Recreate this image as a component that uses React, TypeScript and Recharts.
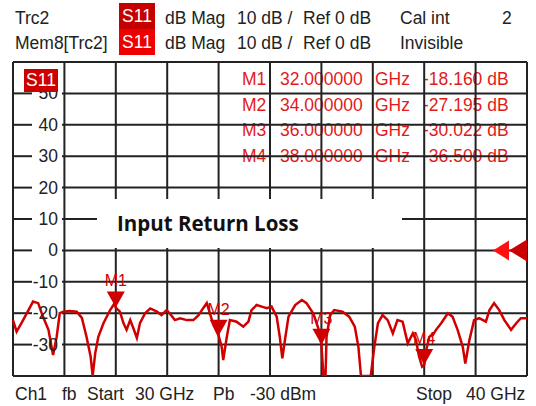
import { ComposedChart, Line, XAxis, YAxis, CartesianGrid, ReferenceDot } from 'recharts'

// ─── Data ─────────────────────────────────────────────────────────────────────

const freqs = [
  30.0, 30.07, 30.17, 30.27, 30.39, 30.49, 30.58, 30.69, 30.78, 30.85, 30.91, 30.98,
  31.1, 31.24, 31.34, 31.43, 31.51, 31.55, 31.6, 31.66, 31.76, 31.89, 31.97, 32.0,
  32.08, 32.15, 32.21, 32.28, 32.34, 32.41, 32.47, 32.57, 32.67, 32.8, 32.89, 32.99,
  33.05, 33.15, 33.25, 33.38, 33.51, 33.61, 33.7, 33.77, 33.83, 33.9, 34.0, 34.06,
  34.09, 34.16, 34.22, 34.35, 34.48, 34.58, 34.64, 34.74, 34.84, 34.94, 35.03, 35.13,
  35.19, 35.24, 35.3, 35.36, 35.49, 35.62, 35.71, 35.84, 35.94, 36.0, 36.04, 36.08,
  36.1, 36.17, 36.25, 36.41, 36.54, 36.65, 36.72, 36.77, 36.96, 37.03, 37.1, 37.19,
  37.29, 37.39, 37.48, 37.58, 37.68, 37.78, 37.84, 37.9, 37.96, 38.0, 38.04, 38.1,
  38.17, 38.23, 38.33, 38.46, 38.55, 38.65, 38.75, 38.8, 38.88, 38.97, 39.07, 39.2,
  39.27, 39.36, 39.46, 39.56, 39.69, 39.79, 39.88, 40.0,
]

const s11 = [
  -22.2, -25.9, -23.0, -20.0, -16.3, -16.8, -21.0, -25.3, -33.3, -27.5, -20.0, -19.5,
  -19.3, -19.5, -21.5, -27.5, -33.8, -40.0, -32.7, -27.5, -23.2, -19.0, -17.0, -18.2,
  -19.5, -23.2, -25.3, -22.2, -24.7, -27.9, -23.2, -20.0, -18.5, -19.5, -20.6, -19.0,
  -20.1, -22.2, -21.6, -22.2, -22.2, -20.6, -18.4, -16.8, -20.0, -23.8, -27.2, -30.7,
  -34.9, -27.5, -22.2, -22.7, -24.3, -22.7, -19.0, -17.4, -17.9, -18.4, -17.9, -21.1,
  -27.5, -34.4, -27.5, -21.1, -17.4, -15.8, -16.8, -20.0, -24.8, -30.0, -40.0, -40.0,
  -27.5, -20.6, -19.0, -19.5, -21.1, -24.3, -30.7, -40.0, -40.0, -30.7, -23.2, -20.6,
  -22.2, -26.4, -22.2, -22.7, -29.6, -26.4, -28.5, -33.8, -37.0, -36.5, -31.7, -27.5,
  -26.9, -25.3, -23.2, -20.0, -21.1, -25.3, -30.7, -36.0, -28.5, -22.2, -21.6, -22.7,
  -19.0, -16.8, -19.0, -22.2, -25.3, -23.2, -21.6, -21.6,
]

const freqTicks = [30, 31, 32, 33, 34, 35, 36, 37, 38, 39, 40]
const dbTicks = [-40, -30, -20, -10, 0, 10, 20, 30, 40, 50, 60]
const dbLabels = [-30, -20, -10, 0, 10, 20, 30, 40, 50]

const markerNames = ['M1', 'M2', 'M3', 'M4']
const markerFreqs = [32, 34, 36, 38]
const markerValues = [-18.16, -27.195, -30.022, -36.5]

const refLevel = 0

const data = freqs.map((f, i) => ({ freq: f, s11: s11[i] }))

// ─── Styles ───────────────────────────────────────────────────────────────────

const FONT = '"Liberation Sans", Arial, sans-serif'
const TRACE = '#d00000'
const MARKER_TEXT = '#e31a1a'
const GRID = '#222'

function Txt({ x, y, color = '#222', children }: { x: number; y: number; color?: string; children: React.ReactNode }) {
  return (
    <div
      style={{
        position: 'absolute',
        left: x,
        top: y,
        fontFamily: FONT,
        fontSize: 17.5,
        lineHeight: '20px',
        color,
        whiteSpace: 'nowrap',
      }}
    >
      {children}
    </div>
  )
}

function Badge({ x, y, w, h, bg }: { x: number; y: number; w: number; h: number; bg: string }) {
  return (
    <div
      style={{
        position: 'absolute',
        left: x,
        top: y,
        width: w,
        height: h,
        background: bg,
        color: '#fff',
        fontFamily: FONT,
        fontSize: 17.5,
        lineHeight: `${h}px`,
        textAlign: 'center',
      }}
    >
      S11
    </div>
  )
}

function NoTick() {
  return <g />
}

// horizontal grid lines leave a gap where the dB label sits (except the frame lines)
function HLine(props: any) {
  const { x1, x2, y1, index } = props
  const frame = index === 0 || index === dbTicks.length - 1
  if (frame) return <line x1={x1} x2={x2} y1={y1} y2={y1} stroke={GRID} strokeWidth={2} />
  return (
    <g>
      <line x1={x1} x2={x1 + 19} y1={y1} y2={y1} stroke={GRID} strokeWidth={2} />
      <line x1={x1 + 49} x2={x2} y1={y1} y2={y1} stroke={GRID} strokeWidth={2} />
    </g>
  )
}

function DbTick(props: any) {
  const { x, y, payload } = props
  if (!dbLabels.includes(payload.value)) return <g />
  return (
    <text x={x + 45} y={y} dy={6} textAnchor="end" fontSize={17.5} fill="#222" fontFamily={FONT}>
      {payload.value}
    </text>
  )
}

function MarkerShape(name: string) {
  return (props: any) => {
    const { cx, cy } = props
    return (
      <g>
        <polygon points={`${cx - 9},${cy - 16} ${cx + 9},${cy - 16} ${cx},${cy}`} fill={TRACE} />
        <text x={cx} y={cy - 21} textAnchor="middle" fontSize={16} fill={TRACE} fontFamily={FONT}>
          {name}
        </text>
      </g>
    )
  }
}

function RefArrows(props: any) {
  const { cx, cy } = props
  return (
    <g>
      <polygon points={`${cx - 34},${cy} ${cx - 18},${cy - 10} ${cx - 18},${cy + 10}`} fill="#ff1010" />
      <polygon points={`${cx - 18},${cy} ${cx},${cy - 11} ${cx},${cy + 11}`} fill="#cc0000" />
    </g>
  )
}

// ─── App ──────────────────────────────────────────────────────────────────────

export default function App() {
  return (
    <div style={{ position: 'absolute', left: 0, top: 0, width: 536, height: 406, background: '#fff', overflow: 'hidden' }}>
      {/* header */}
      <Txt x={15} y={8}>Trc2</Txt>
      <Badge x={119} y={3} w={36} h={26} bg="#c40000" />
      <Txt x={165} y={8}>dB Mag</Txt>
      <Txt x={237} y={8}>10 dB /</Txt>
      <Txt x={303} y={8}>Ref 0 dB</Txt>
      <Txt x={400} y={8}>Cal int</Txt>
      <Txt x={502} y={8}>2</Txt>

      <Txt x={15} y={33}>Mem8[Trc2]</Txt>
      <Badge x={119} y={29} w={36} h={26} bg="#ee0000" />
      <Txt x={165} y={33}>dB Mag</Txt>
      <Txt x={237} y={33}>10 dB /</Txt>
      <Txt x={303} y={33}>Ref 0 dB</Txt>
      <Txt x={400} y={33}>Invisible</Txt>

      {/* marker table, under the grid */}
      {markerNames.map((m, i) => (
        <div key={m}>
          <Txt x={242} y={69 + i * 25.5} color={MARKER_TEXT}>{m}</Txt>
          <Txt x={280} y={69 + i * 25.5} color={MARKER_TEXT}>{markerFreqs[i].toFixed(6)}</Txt>
          <Txt x={375} y={69 + i * 25.5} color={MARKER_TEXT}>GHz</Txt>
          <Txt x={423} y={69 + i * 25.5} color={MARKER_TEXT}>{`${markerValues[i].toFixed(3)} dB`}</Txt>
        </div>
      ))}

      <div style={{ position: 'absolute', left: 0, top: 0 }}>
        <ComposedChart width={536} height={406} data={data} margin={{ top: 62, right: 9, bottom: 30, left: 13 }}>
          <CartesianGrid
            stroke={GRID}
            strokeWidth={2}
            verticalValues={freqTicks}
            horizontalValues={dbTicks}
            horizontal={HLine}
          />
          <XAxis
            dataKey="freq"
            type="number"
            domain={[30, 40]}
            ticks={freqTicks}
            interval={0}
            height={0}
            tick={NoTick}
            axisLine={false}
            tickLine={false}
          />
          <YAxis
            type="number"
            domain={[-40, 60]}
            ticks={dbTicks}
            interval={0}
            width={1}
            mirror
            tickSize={0}
            tickMargin={0}
            axisLine={false}
            tickLine={false}
            allowDataOverflow
            tick={DbTick}
          />
          <Line
            type="linear"
            dataKey="s11"
            stroke={TRACE}
            strokeWidth={2.5}
            dot={false}
            activeDot={false}
            isAnimationActive={false}
          />
          {markerNames.map((m, i) => (
            <ReferenceDot key={m} x={markerFreqs[i]} y={markerValues[i]} r={1} ifOverflow="visible" shape={MarkerShape(m)} />
          ))}
          <ReferenceDot x={40} y={refLevel} r={1} ifOverflow="visible" shape={RefArrows} />
        </ComposedChart>
      </div>

      {/* overlays */}
      <Badge x={24} y={69} w={34} h={23} bg="#cc0000" />
      <div
        style={{
          position: 'absolute',
          left: 97,
          top: 199,
          width: 305,
          height: 49,
          background: '#fff',
        }}
      >
        <div
          style={{
            position: 'absolute',
            left: 20,
            top: 10,
            fontFamily: '"Open Sans", sans-serif',
            fontWeight: 700,
            fontSize: 20.5,
            lineHeight: '28px',
            color: '#111',
            whiteSpace: 'nowrap',
          }}
        >
          Input Return Loss
        </div>
      </div>

      {/* footer */}
      <Txt x={15} y={384}>Ch1</Txt>
      <Txt x={62} y={384}>fb</Txt>
      <Txt x={87} y={384}>Start</Txt>
      <Txt x={135} y={384}>30 GHz</Txt>
      <Txt x={213} y={384}>Pb</Txt>
      <Txt x={250} y={384}>-30 dBm</Txt>
      <Txt x={416} y={384}>Stop</Txt>
      <Txt x={466} y={384}>40 GHz</Txt>
    </div>
  )
}
